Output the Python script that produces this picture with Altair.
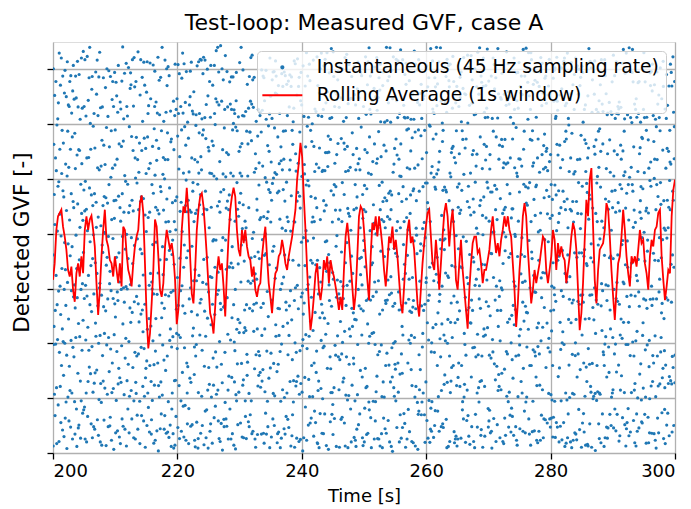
import altair as alt
import numpy as np
import pandas as pd

TITLE = "Test-loop: Measured GVF, case A"
X_TITLE = "Time [s]"
Y_TITLE = "Detected GVF [-]"
SERIES = ["Instantaneous (45 Hz sampling rate)", "Rolling Average (1s window)"]
X_TICKS = [200, 220, 240, 260, 280, 300]
Y_TICKS = [0.0, 0.1, 0.2, 0.3, 0.4, 0.5, 0.6, 0.7]
T_START, T_END = 200.0, 300.0
Y_MAX = 0.75

# rolling average at ~0.27 s steps from 200 s to 300 s
ROLL_VALUES = [
    0.316, 0.346, 0.407, 0.432, 0.438, 0.444, 0.413, 0.395, 0.371, 0.334,
    0.322, 0.340, 0.298, 0.276, 0.328, 0.346, 0.322, 0.359, 0.328, 0.407,
    0.432, 0.407, 0.426, 0.433, 0.407, 0.377, 0.310, 0.252, 0.298, 0.359,
    0.407, 0.444, 0.389, 0.377, 0.352, 0.346, 0.322, 0.359, 0.334, 0.310,
    0.346, 0.304, 0.413, 0.407, 0.365, 0.334, 0.322, 0.304, 0.346, 0.377,
    0.395, 0.407, 0.456, 0.470, 0.438, 0.346, 0.249, 0.191, 0.218, 0.273,
    0.334, 0.426, 0.413, 0.359, 0.298, 0.285, 0.310, 0.377, 0.407, 0.389,
    0.371, 0.383, 0.359, 0.316, 0.235,
    0.262, 0.330, 0.407, 0.450, 0.438, 0.484, 0.438, 0.359, 0.291, 0.273,
    0.334, 0.407, 0.444, 0.468, 0.474, 0.450, 0.407, 0.359, 0.304, 0.255,
    0.243, 0.218, 0.267, 0.328, 0.359, 0.334, 0.346, 0.304, 0.249, 0.328,
    0.395, 0.444, 0.468, 0.484, 0.468, 0.407, 0.371, 0.359, 0.407, 0.383,
    0.407, 0.377, 0.359, 0.352, 0.322, 0.340, 0.298, 0.285, 0.304, 0.310,
    0.359, 0.389, 0.413, 0.359, 0.310, 0.285, 0.255, 0.298, 0.328, 0.334,
    0.359, 0.365, 0.389, 0.371, 0.346, 0.334, 0.359, 0.377, 0.395, 0.420,
    0.444, 0.499, 0.529, 0.566, 0.541,
    0.468, 0.407, 0.334, 0.273, 0.224, 0.249, 0.285, 0.328, 0.346, 0.298,
    0.279, 0.304, 0.352, 0.334, 0.359, 0.310, 0.352, 0.334, 0.322, 0.304,
    0.285, 0.261, 0.285, 0.261, 0.334, 0.395, 0.420, 0.389, 0.346, 0.304,
    0.261, 0.291, 0.359, 0.432, 0.450, 0.444, 0.407, 0.359, 0.316, 0.279,
    0.359, 0.420, 0.407, 0.432, 0.395, 0.432, 0.407, 0.377, 0.334, 0.304,
    0.346, 0.395, 0.383, 0.413, 0.371, 0.389, 0.359, 0.316, 0.273, 0.255,
    0.304, 0.359, 0.407, 0.426, 0.383, 0.395, 0.371, 0.322, 0.273, 0.249,
    0.298, 0.346, 0.383, 0.413, 0.438, 0.444,
    0.395, 0.346, 0.334, 0.389, 0.352, 0.298, 0.346, 0.395, 0.438, 0.456,
    0.432, 0.377, 0.420, 0.444, 0.395, 0.316, 0.298, 0.346, 0.389, 0.334,
    0.298, 0.261, 0.227, 0.298, 0.346, 0.383, 0.395, 0.395, 0.365, 0.371,
    0.346, 0.310, 0.334, 0.334, 0.352, 0.371, 0.407, 0.432, 0.395, 0.365,
    0.383, 0.359, 0.389, 0.407, 0.432, 0.413, 0.432, 0.407, 0.395, 0.346,
    0.298, 0.230, 0.273, 0.334, 0.377, 0.432, 0.456, 0.432, 0.371, 0.322,
    0.273, 0.298, 0.334, 0.310, 0.328, 0.346, 0.371, 0.395, 0.389, 0.334,
    0.310, 0.334, 0.359, 0.407, 0.389, 0.334,
    0.383, 0.359, 0.377, 0.359, 0.352, 0.310, 0.334, 0.359, 0.395, 0.420,
    0.407, 0.371, 0.298, 0.224, 0.255, 0.310, 0.389, 0.462, 0.432, 0.499,
    0.520, 0.413, 0.316, 0.273, 0.334, 0.371, 0.377, 0.383, 0.407, 0.456,
    0.444, 0.395, 0.334, 0.285, 0.243, 0.298, 0.346, 0.359, 0.395, 0.444,
    0.407, 0.359, 0.328, 0.304, 0.359, 0.346, 0.359, 0.340, 0.371, 0.407,
    0.383, 0.389, 0.346, 0.328, 0.298, 0.359, 0.389, 0.377, 0.407, 0.413,
    0.438, 0.444, 0.359, 0.316, 0.279, 0.304, 0.334, 0.328, 0.432, 0.480,
    0.499,
]

# instantaneous samples: estimated per-mille position within the visible range
INST_CODES = """
482 017 935 264 751 308 629 143 870 556 091 347 718 265 904 432 687 159 023 798 361 540 276 813 649
117 852 394 660 028 973 245 581 739 406 162 895 337 074 528 961 213 680 449 785 302 056 917 638 271
754 189 623 040 398 876 512 267 931 085 446 703 359 124 867 590 238 011 674 952 415 783 136 509 847
326 695 078 843 211 567 904 152 480 739 063 918 274 631 395 827 146 502 769 034 881 257 612 943 380
597 234 861 409 125 778 046 353 692 917 281 530 864 107 449 016 725 378 953 606 194 842 061 315 738
068 921 470 736 283 549 812 175 036 654 398 127 961 583 704 250 839 412 097 566 323 977 488 105 640
843 376 112 589 957 034 661 408 275 820 146 593 027 718 382 965 541 089 306 174 858 432 719 250 913
209 645 987 361 514 802 193 739 456 071 628 344 885 259 916 037 473 602 148 795 531 064 387 826 170
631 058 742 195 463 316 927 284 610 549 873 202 437 956 081 694 358 821 574 043 267 915 130 689 402
975 413 286 027 840 169 553 698 123 384 019 761 506 842 237 488 602 175 913 356 749 080 624 291 537
158 702 534 889 346 621 018 457 792 263 935 476 143 608 375 819 064 527 281 930 653 198 745 412 066
442 087 916 253 671 395 784 031 568 147 860 219 693 904 522 376 157 843 009 614 288 571 926 363 701
786 331 049 615 902 128 476 869 247 715 392 054 829 371 168 943 625 206 487 752 039 416 183 597 854
023 564 837 172 398 746 261 905 083 631 527 988 314 065 759 402 813 586 142 367 924 675 058 231 496
661 279 405 948 017 532 843 176 399 820 654 107 473 216 938 585 271 049 794 138 602 353 887 410 925
318 896 152 524 770 083 615 342 957 461 208 736 589 844 037 127 962 368 505 891 245 718 034 669 172
904 145 768 381 236 657 092 521 714 058 976 363 241 592 683 319 407 754 126 023 871 496 612 957 338
257 623 091 736 485 914 348 807 162 295 433 619 078 951 254 766 138 895 362 579 014 183 741 206 680
539 878 224 067 952 301 769 146 826 573 111 845 692 327 408 051 586 213 949 705 437 862 309 174 046
081 416 653 399 128 746 507 273 944 632 387 024 215 789 165 843 929 676 031 248 598 327 854 513 761
712 054 386 827 591 219 963 438 005 164 741 582 907 136 823 287 470 059 648 914 173 636 095 784 329
365 987 141 502 263 678 434 719 591 807 226 058 352 667 091 956 714 385 201 562 829 048 471 935 618
894 236 779 051 714 940 125 563 382 038 918 493 645 274 539 068 302 832 757 391 016 764 258 107 483
146 609 518 283 047 395 856 012 738 459 563 176 821 019 946 614 177 543 089 836 350 291 623 862 254
427 771 062 945 359 826 287 691 164 923 035 721 474 588 281 395 843 127 610 053 786 912 407 539 196
973 358 827 114 681 452 039 947 506 256 794 340 116 853 602 749 031 664 928 475 219 587 146 071 805
210 492 615 766 023 108 684 375 847 591 182 867 929 402 065 172 586 951 344 718 503 069 832 285 637
658 825 304 419 879 563 191 258 031 714 446 015 583 236 797 823 264 419 075 591 942 336 708 654 012
035 147 952 681 432 779 826 604 287 365 958 629 048 721 374 956 689 138 813 250 067 774 415 923 581
786 963 471 020 594 211 345 816 956 102 637 284 765 037 848 411 105 592 476 934 328 153 869 012 744
392 208 735 548 167 904 681 053 429 817 071 943 312 598 136 680 427 759 024 362 895 516 231 748 165
519 674 086 943 826 337 452 799 114 246 862 518 979 143 667 209 854 386 601 987 153 440 078 396 927
847 035 612 271 709 586 028 364 991 635 349 072 216 856 493 935 171 007 738 524 679 908 355 641 082
064 791 358 836 245 123 967 518 672 083 596 447 731 065 928 378 613 842 289 153 034 726 592 187 453
628 452 903 107 568 849 275 681 034 462 915 836 184 329 502 047 786 451 915 674 802 361 019 835 270
173 826 249 564 398 010 793 142 857 926 127 301 658 784 217 593 069 325 460 818 576 148 734 293 609
950 317 681 745 073 632 416 987 506 218 674 753 039 546 821 165 932 604 178 037 293 820 467 519 348
305 564 127 089 831 298 548 035 361 783 240 189 897 221 674 752 418 076 839 597 145 064 916 352 781
781 093 856 413 962 475 127 760 849 047 968 522 346 908 053 419 841 537 296 362 914 683 205 478 034
436 728 014 692 239 807 365 423 618 591 302 045 771 163 489 836 247 189 652 706 473 237 568 821 196
829 160 573 354 781 046 932 286 175 834 519 698 203 917 364 048 575 913 024 481 857 302 149 670 533
097 485 931 812 046 659 248 571 393 126 748 064 587 332 796 641 182 734 458 825 013 961 634 207 868
562 243 708 039 615 372 814 908 656 491 083 927 145 669 218 503 928 067 791 139 682 425 876 954 312
284 917 450 678 873 198 025 633 047 769 352 216 894 051 637 286 704 351 826 569 247 013 398 126 745
711 036 265 923 412 547 689 154 892 308 641 783 428 715 059 927 135 482 613 046 918 784 541 367 089
348 659 897 146 574 821 316 082 239 563 905 470 062 286 842 358 689 920 174 713 395 540 017 892 626
915 324 042 785 227 093 751 469 806 124 176 839 563 954 371 014 562 268 947 402 728 163 686 245 174
036 871 613 408 959 634 187 705 351 892 457 028 914 143 625 781 249 596 033 857 169 926 380 513 847
673 148 389 261 005 276 942 338 524 037 819 365 702 679 184 456 893 112 745 288 541 652 974 031 398
254 795 516 917 663 410 068 817 179 650 284 946 137 428 906 073 321 785 469 624 085 379 213 758 562
801 462 137 574 298 956 523 041 746 219 563 102 685 837 342 620 074 458 831 196 703 248 597 964 025
469 023 894 152 821 387 175 694 013 876 742 451 329 096 568 935 416 157 274 973 362 819 048 685 341
132 688 256 836 047 614 942 260 589 328 095 687 958 514 731 289 852 603 018 442 516 974 731 206 879
697 315 771 009 483 732 409 925 371 463 814 234 076 763 205 147 638 984 357 816 094 147 562 439 118
045 976 423 628 916 159 653 084 843 705 262 879 591 238 648 503 016 379 726 529 873 421 285 908 753
928 234 569 387 154 841 014 376 227 591 938 320 417 864 082 765 489 241 563 087 658 269 934 173 406
376 807 182 754 629 073 296 739 962 017 463 685 141 359 816 234 970 512 408 746 129 595 013 850 687
583 140 945 216 302 576 861 418 695 284 107 542 863 027 479 916 352 165 779 308 437 862 726 341 231
217 592 038 941 872 325 127 653 031 847 689 016 324 596 741 058 623 886 142 264 951 704 398 069 814
864 358 716 473 095 689 548 201 434 926 351 793 476 918 287 409 185 037 629 571 018 346 843 517 592
493 027 651 109 738 453 206 964 587 159 824 371 045 643 162 731 896 314 048 952 375 681 267 124 986
105 769 284 836 541 917 372 086 825 678 013 458 926 291 502 857 463 709 381 126 604 293 559 887 034
752 416 939 264 078 125 867 533 149 392 705 962 187 834 716 035 239 548 865 419 782 034 913 651 247
338 883 017 592 946 806 491 721 263 047 568 137 659 013 348 894 612 173 927 085 563 749 136 478 805
621 059 548 371 213 364 735 048 987 614 243 809 372 575 906 421 079 852 496 632 214 916 385 027 569
986 637 173 805 429 592 016 389 628 256 931 185 004 862 357 683 964 267 159 703 498 138 741 364 216
271 204 486 127 764 958 541 857 062 725 478 563 816 219 954 148 392 631 715 348 027 826 674 192 093
548 981 752 673 036 241 349 612 308 194 062 957 287 648 423 507 846 096 563 817 459 072 921 815 437
014 365 897 948 618 573 786 034 694 481 816 219 543 106 789 374 275 423 906 052 691 345 583 267 628
735 812 203 286 342 028 164 767 427 873 355 638 025 371 643 812 516 978 281 693 136 781 017 946 351
162 547 614 530 879 485 932 123 853 009 701 094 786 957 102 239 637 154 847 418 875 203 492 509 772
897 093 358 814 124 716 258 546 291 648 146 862 347 504 869 561 093 785 362 026 524 657 938 173 415
426 731 942 079 657 317 609 891 036 371 593 275 913 128 384 798 452 026 795 563 058 984 109 681 246
053 268 125 697 462 954 837 305 764 829 038 419 671 826 245 067 913 647 103 891 642 313 776 435 987
679 845 476 213 898 102 341 689 137 415 952 708 053 369 734 386 278 519 986 234 497 856 064 152 578
314 406 803 758 071 639 785 062 518 543 287 167 495 647 190 521 854 273 438 640 916 082 635 829 013
958 172 267 431 325 874 016 427 943 906 614 891 236 028 681 946 147 318 672 175 365 731 208 456 741
281 839 591 965 746 213 563 904 382 052 719 025 878 453 317 034 706 852 041 529 784 164 892 017 367
647 325 034 184 598 497 219 843 655 728 346 583 162 914 865 453 591 036 927 806 213 639 451 784 105
125 763 887 526 083 962 678 136 291 167 874 264 742 379 026 872 238 764 515 348 079 427 153 612 968
803 091 412 649 937 041 354 598 846 483 021 936 317 681 579 316 967 185 372 064 851 908 726 347 256
476 618 736 028 465 586 823 257 013 935 408 659 094 825 234 698 423 547 891 727 146 063 289 975 534
239 447 159 873 124 375 407 986 602 174 769 352 615 043 917 057 176 902 236 459 692 578 014 531 892
961 284 623 302 751 829 162 041 458 816 287 713 894 572 368 746 839 421 659 983 305 817 645 108 063
357 905 078 564 238 104 691 726 334 049 635 486 231 917 053 485 012 635 814 276 537 246 961 783 427
084 538 945 217 886 651 945 372 178 592 913 028 769 406 642 211 568 069 347 815 984 152 308 874 191
715 162 381 749 419 037 273 619 865 347 154 861 402 763 194 924 397 746 583 028 461 694 537 023 706
592 873 204 085 763 492 598 043 526 703 846 247 976 138 858 653 241 318 706 947 125 879 063 476 849
148 326 867 631 092 718 817 485 051 268 572 109 335 594 227 089 764 594 182 359 802 043 417 961 312
836 694 532 406 527 349 064 236 792 925 031 681 857 019 673 478 926 137 839 564 238 716 950 285 635
263 059 715 892 301 876 436 174 917 483 698 524 146 872 415 367 053 982 206 739 654 321 783 102 478
917 418 049 357 648 124 985 608 342 136 258 937 603 341 902 812 645 301 974 083 517 869 046 658 213
402 763 836 019 974 563 213 957 489 761 473 052 784 698 126 251 897 706 432 617 928 054 392 246 907
578 236 391 648 185 817 652 031 164 305 902 718 025 259 764 538 316 469 053 892 241 683 165 927 542
031 584 962 273 426 092 378 845 726 948 154 306 439 876 037 691 748 083 621 354 776 519 912 438 081
695 917 208 734 851 639 741 316 073 582 687 871 256 514 893 145 279 624 958 709 083 246 571 063 726
346 142 653 085 297 406 129 578 617 213 039 463 912 087 348 856 402 931 385 126 652 937 038 814 369
819 628 074 541 963 751 856 063 834 469 725 186 561 638 479 027 583 207 749 871 318 065 694 252 597
127 395 937 886 032 268 493 714 295 637 381 947 074 953 264 612 961 758 016 437 845 592 146 783 024
764 851 416 129 618 973 037 482 548 095 814 325 798 214 685 374 135 429 861 593 027 718 874 317 950
589 013 778 365 240 145 612 896 031 372 562 679 143 836 921 487 049 685 237 268 961 046 325 938 612
032 476 185 942 714 583 369 241 873 658 106 934 487 362 057 715 894 203 546 914 384 773 582 014 487
941 287 649 073 385 926 805 367 096 219 479 051 836 495 762 138 326 847 019 685 753 209 461 656 174
456 634 021 718 869 017 254 742 569 984 327 628 216 071 384 953 618 162 475 148 509 937 014 385 829
218 908 596 354 132 465 927 138 324 746 873 402 954 727 145 006 291 583 762 372 836 128 657 213 563
673 149 362 829 506 783 071 695 857 035 146 789 521 143 896 647 734 025 358 957 412 564 298 849 095
395 752 831 246 947 239 548 016 213 481 957 265 037 918 618 283 409 874 692 063 185 371 823 036 728
827 061 407 593 258 612 196 853 475 762 094 348 683 302 479 831 067 542 136 824 637 903 146 597 281
154 473 968 061 674 398 735 241 918 107 639 814 265 586 054 376 952 197 826 415 094 726 369 482 843
609 825 214 837 029 854 362 589 042 653 287 153 749 841 326 715 188 643 507 279 948 086 517 735 416
982 318 675 412 783 147 813 069 684 924 458 596 017 264 973 059 632 381 074 516 823 452 264 108 653
318 567 042 986 356 671 428 947 237 051 816 932 384 695 147 462 804 926 653 982 270 637 903 549 079
745 236 591 153 849 025 169 382 561 836 273 017 862 432 095 817 296 053 419 134 685 901 471 826 392
061 904 357 728 192 586 743 614 805 217 648 571 129 076 768 524 073 765 286 643 317 158 836 375 974
537 682 816 094 467 903 251 136 372 589 024 785 596 817 352 263 491 518 942 087 762 584 025 693 210
274 049 132 663 925 374 894 708 649 163 928 406 048 359 881 946 174 237 375 821 486 219 758 047 668
896 715 469 285 031 812 137 592 012 794 375 653 927 714 236 085 849 624 163 468 049 871 392 816 524
423 168 784 937 658 246 605 281 475 341 862 098 364 183 519 737 206 953 892 035 614 327 547 249 106
159 837 023 542 214 693 378 814 921 068 523 741 615 846 097 372 548 169 734 598 893 042 186 663 785
708 592 946 176 703 459 926 367 168 893 051 235 482 637 964 208 615 829 067 452 716 794 904 171 238
"""

inst_y = [int(c) / 1000 * Y_MAX for c in INST_CODES.split()]
inst_t = np.linspace(T_START, T_END, len(inst_y))
roll_t = np.linspace(T_START, T_END, len(ROLL_VALUES))

inst_df = pd.DataFrame({"t": inst_t, "v": inst_y, "series": SERIES[0]})
roll_df = pd.DataFrame({"t": roll_t, "v": ROLL_VALUES, "series": SERIES[1]})

FONT = "DejaVu Sans"
IS_ROLL = f"datum.value === '{SERIES[1]}'"

x_enc = alt.X(
    "t:Q",
    scale=alt.Scale(domain=[T_START, T_END], nice=False, zero=False),
    axis=alt.Axis(
        values=X_TICKS, format="d", title=X_TITLE,
        labelFont=FONT, labelFontSize=18, labelColor="black", labelPadding=3,
        tickSize=6, tickWidth=1.3, tickColor="black", domain=False,
        grid=True, gridColor="#b0b0b0", gridWidth=1.3,
        titleFont=FONT, titleFontSize=18, titleFontWeight="normal", titleColor="black",
        titleY=43, titleBaseline="middle",
    ),
)
y_enc = alt.Y(
    "v:Q",
    scale=alt.Scale(domain=[0, Y_MAX], nice=False, zero=False),
    axis=alt.Axis(
        values=Y_TICKS, labels=False, title=Y_TITLE,
        tickSize=6, tickWidth=1.3, tickColor="black", domain=False,
        grid=True, gridColor="#b0b0b0", gridWidth=1.3,
        titleFont=FONT, titleFontSize=21.5, titleFontWeight="normal", titleColor="black",
        titleX=-31, titleY=200, titleAlign="center", titleBaseline="middle", titleAngle=270,
    ),
)
color_enc = alt.Color(
    "series:N",
    scale=alt.Scale(domain=SERIES, range=["#1f77b4", "#ff0000"]),
    legend=alt.Legend(
        title=None, orient="top-right", offset=9,
        labelFont=FONT, labelFontSize=18.7, labelColor="black", labelLimit=600,
        fillColor="rgba(255,255,255,0.8)", strokeColor="#cccccc", cornerRadius=4,
        padding=7, rowPadding=8, labelOffset=25, symbolOffset=9,
        symbolType={"expr": f"{IS_ROLL} ? 'stroke' : 'circle'"},
        symbolSize={"expr": f"{IS_ROLL} ? 1600 : 5"},
        symbolStrokeWidth=2,
        symbolFillColor={"expr": f"{IS_ROLL} ? 'transparent' : '#1f77b4'"},
        symbolStrokeColor={"expr": f"{IS_ROLL} ? '#ff0000' : '#1f77b4'"},
        symbolOpacity=1,
    ),
)

points = alt.Chart(inst_df).mark_circle(size=10, opacity=1, clip=True).encode(
    x=x_enc, y=y_enc, color=color_enc
)
line = alt.Chart(roll_df).mark_line(strokeWidth=1.8, clip=True).encode(
    x="t:Q", y="v:Q", color="series:N"
)

chart = (
    alt.layer(points, line)
    .properties(
        width=622, height=411,
        title=alt.TitleParams(
            TITLE, font=FONT, fontSize=22, fontWeight="normal", color="black",
            anchor="middle", frame="group", offset=12, baseline="alphabetic", dy=22,
        ),
        autosize=alt.AutoSizeParams(type="none"),
        padding={"left": 53, "top": 42, "right": 16, "bottom": 56},
    )
    .configure_view(stroke="black", strokeWidth=1.3)
    .configure(background="white")
)

chart.save("out.html", embed_options={"renderer": "svg", "actions": False})
